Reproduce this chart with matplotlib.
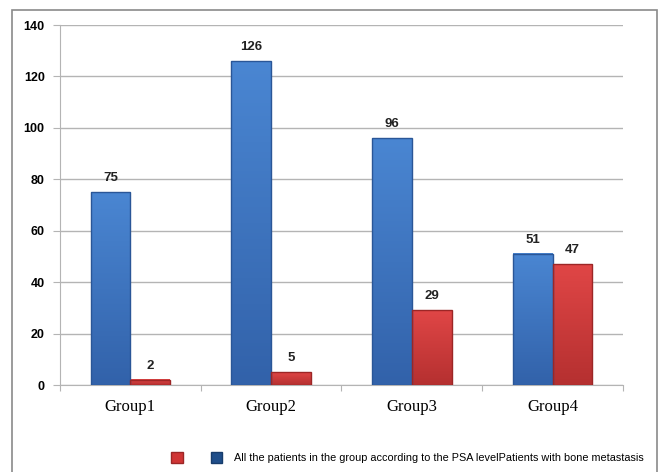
import matplotlib
matplotlib.use('Agg')
import matplotlib.pyplot as plt
import numpy as np
from matplotlib.patches import Rectangle, Patch
from matplotlib.colors import LinearSegmentedColormap

# data
groups = ['Group1', 'Group2', 'Group3', 'Group4']
all_patients = [75, 126, 96, 51]
bone_meta = [2, 5, 29, 47]
legend_text = 'All the patients in the group according to the PSA levelPatients with bone metastasis'

blue_edge = '#2a5697'
red_edge = '#9c2626'
grid_col = '#b4b4b4'
blue_cm = LinearSegmentedColormap.from_list('b', ['#3262aa', '#4a86d2'])
red_cm = LinearSegmentedColormap.from_list('r', ['#b53030', '#e04646'])

fig = plt.figure(figsize=(6.59, 4.72), dpi=100)
ax = fig.add_axes([0.091, 0.1843, 0.8543, 0.7627])

x = np.arange(len(groups))
w = 0.283
b1 = ax.bar(x - w/2, all_patients, w, color='none', edgecolor=blue_edge, linewidth=1.0, zorder=4)
b2 = ax.bar(x + w/2, bone_meta, w, color='none', edgecolor=red_edge, linewidth=1.0, zorder=4)

# vertical gradient inside each bar
grad = np.linspace(0, 1, 100).reshape(-1, 1)
for bars, cm in ((b1, blue_cm), (b2, red_cm)):
    for r in bars:
        x0, h, bw = r.get_x(), r.get_height(), r.get_width()
        ax.imshow(grad, cmap=cm, origin='lower', aspect='auto', extent=(x0, x0 + bw, 0, h), zorder=3)

for bars in (b1, b2):
    for r in bars:
        h = r.get_height()
        ax.annotate(str(int(h)), (r.get_x() + r.get_width()/2, h),
                    xytext=(0, 6), textcoords='offset points', ha='center', va='bottom',
                    fontsize=9.5, fontweight='bold', family='Liberation Sans', color='#222222')

ax.set_xlim(-0.5, 3.5)
ax.set_ylim(0, 140)
ax.set_yticks(range(0, 141, 20))
ax.yaxis.grid(True, color=grid_col, linewidth=1.0, zorder=0)
ax.set_axisbelow(True)

# ticks at category boundaries, labels in the middle
ax.set_xticks(np.arange(-0.5, 4.0, 1.0))
ax.set_xticklabels([])
ax.set_xticks(x, minor=True)
ax.set_xticklabels(groups, minor=True, family='Liberation Serif', fontsize=12)
ax.tick_params(axis='x', which='minor', length=0, pad=10)
ax.tick_params(axis='x', which='major', length=4, color=grid_col, direction='out')
ax.tick_params(axis='y', length=5, color=grid_col, pad=6)
for lab in ax.get_yticklabels():
    lab.set_fontweight('bold')
    lab.set_family('Liberation Sans')
    lab.set_fontsize(9)

for s in ['top', 'right']:
    ax.spines[s].set_visible(False)
ax.spines['left'].set_color(grid_col)
ax.spines['bottom'].set_color(grid_col)

# outer frame
fig.patches.append(Rectangle((12/659, -0.05), (657-12)/659, 1.05 - 10/472, transform=fig.transFigure,
                             fill=False, edgecolor='#8a8a8a', linewidth=1.2))

handles = [Patch(facecolor='#d03535', edgecolor=red_edge), Patch(facecolor='#1f4e8a', edgecolor='#173c6b')]
fig.legend(handles, ['', legend_text], ncol=2, loc='center left', bbox_to_anchor=(0.245, 0.03),
           frameon=False, handlelength=1.05, handleheight=1.05, columnspacing=1.5,
           handletextpad=1.1, prop={'family': 'Liberation Sans', 'size': 7.8})

fig.savefig('out.png', dpi=100)
